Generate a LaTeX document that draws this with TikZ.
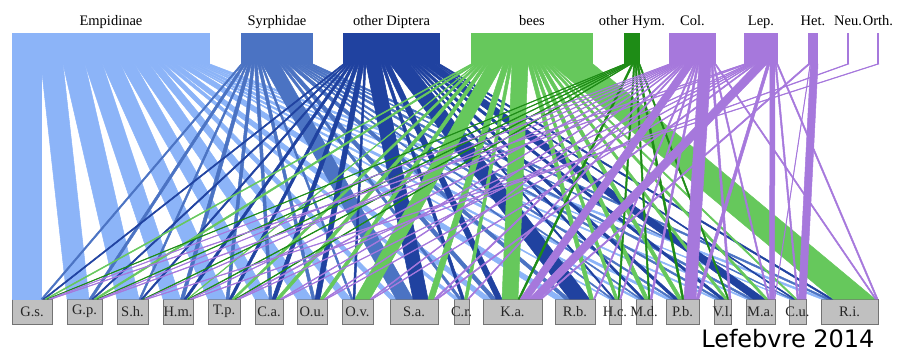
\documentclass[tikz,border=0pt]{standalone}
\usepackage{fontspec}
\setmainfont{Liberation Serif}
\newfontfamily\creditfont{DejaVu Sans}
\definecolor{empid}{RGB}{140,180,248}
\definecolor{syrph}{RGB}{75,115,195}
\definecolor{odipt}{RGB}{32,66,160}
\definecolor{bees}{RGB}{102,200,92}
\definecolor{ohym}{RGB}{30,140,22}
\definecolor{othr}{RGB}{166,120,220}
\definecolor{plantgrey}{RGB}{192,192,192}
\definecolor{plantedge}{RGB}{115,115,115}

\tikzset{
  upbox/.style={fill=#1, inner sep=0pt, outer sep=0pt, minimum height=31pt, anchor=north west},
  lowbox/.style={fill=plantgrey, draw=plantedge, line width=0.9pt, inner sep=0pt, outer sep=0pt,
    minimum height=25pt, anchor=north west},
  uplab/.style={font=\fontsize{14.5}{16}\selectfont, anchor=base, inner sep=0pt},
  lowlab/.style={font=\fontsize{14.5}{16}\selectfont, text=black!85, inner sep=0pt},
  link/.style={fill=#1, draw=#1, line width=0.5pt, line join=round}
}

% one row of the web: #1 = upper group, #2 = colour, #3 = link widths per plant
\def\weblinks#1#2#3{%
  \xdef\upoff{0}%
  \foreach \w [count=\j] in {#3} {%
    \ifdim \w pt>0pt
      \pgfmathsetmacro\lo{\csname loff\j\endcsname}
      \pgfmathsetmacro\ub{\upoff+\w}
      \pgfmathsetmacro\lb{\lo+\w}
      \filldraw[link=#2] ([xshift=\upoff pt]u#1.south west) -- ([xshift=\ub pt]u#1.south west)
        -- ([xshift=\lb pt]l\j.north west) -- ([xshift=\lo pt]l\j.north west) -- cycle;
      \xdef\upoff{\ub}
      \expandafter\xdef\csname loff\j\endcsname{\lb}
    \fi
  }%
}

\begin{document}
\begin{tikzpicture}[x=1pt,y=-1pt]
\useasboundingbox (0,0) rectangle (897,354);

\foreach \i/\x/\w/\clr/\name in {1/12/198/empid/Empidinae, 2/241/72/syrph/Syrphidae,
  3/343/97/odipt/other Diptera, 4/471/122/bees/bees, 5/624/16/ohym/other Hym.,
  6/669/47/othr/Col., 7/744/34/othr/Lep., 8/808/10/othr/Het., 9/847/2/othr/Neu.,
  10/877/2/othr/Orth.}
{
  \node[upbox=\clr, minimum width=\w pt] (u\i) at (\x,33) {};
  \node[uplab] (t\i) at ([yshift=8pt]u\i.north) {\name};
}

\foreach \j/\x/\w/\name in {1/12/40/G.s., 2/67/35/G.p., 3/117/31/S.h., 4/163/30/H.m.,
  5/208/32/T.p., 6/255/28/C.a., 7/297/30/O.u., 8/342/31/O.v., 9/390/48/S.a.,
  10/454/15/C.r., 11/483/59/K.a., 12/555/40/R.b., 13/609/12/H.c., 14/636/16/M.d.,
  15/666/33/P.b., 16/714/17/V.l., 17/746/29/M.a., 18/789/17/C.u., 19/821/57/R.i.}
{
  \node[lowbox, minimum width=\w pt, label={[lowlab]center:\name}] (l\j) at (\x,299) {};
  \expandafter\xdef\csname loff\j\endcsname{0}
}

\weblinks{1}{empid}{29,22,22,17.5,18,14,15,9,6,4.5,8,9.5,2,3.5,5,3,3,2,5}
\weblinks{2}{syrph}{2,3,2,3.5,3,3,3,2,17,3,5,5,2,2,3,3.5,4,2,4}
\weblinks{3}{odipt}{2,2,2,3,3,4,5,2,15,3,6,20,2,3,4,4,12,2,3}
\weblinks{4}{bees}{2,3,0,1,3,4,4,15,6,3,16,4,3,4,4,3,3,2,42}
\weblinks{5}{ohym}{1.5,1.5,1.5,1.5,1.5,0,0,0,0,0,2,0,1.5,1.5,2,1.5,0,0,0}
\weblinks{6}{othr}{1.5,1.5,1.5,1.5,2,1.5,1.5,1.5,2,1.5,9,1.5,1.5,2,12,2,1.5,0,1.5}
\weblinks{7}{othr}{2,2,0,0,1.5,1.5,1.5,1.5,2,0,11,0,0,0,3,0,5,1.5,1.5}
\weblinks{8}{othr}{0,0,0,0,0,0,0,0,0,0,2,0,0,0,0,0,0.5,7.5,0}
\weblinks{9}{othr}{0,0,0,2,0,0,0,0,0,0,0,0,0,0,0,0,0,0,0}
\weblinks{10}{othr}{0,0,2,0,0,0,0,0,0,0,0,0,0,0,0,0,0,0,0}

\node[anchor=base east, font=\creditfont\fontsize{24}{28}\selectfont] (credit) at (878,347) {Lefebvre 2014};
\end{tikzpicture}
\end{document}
